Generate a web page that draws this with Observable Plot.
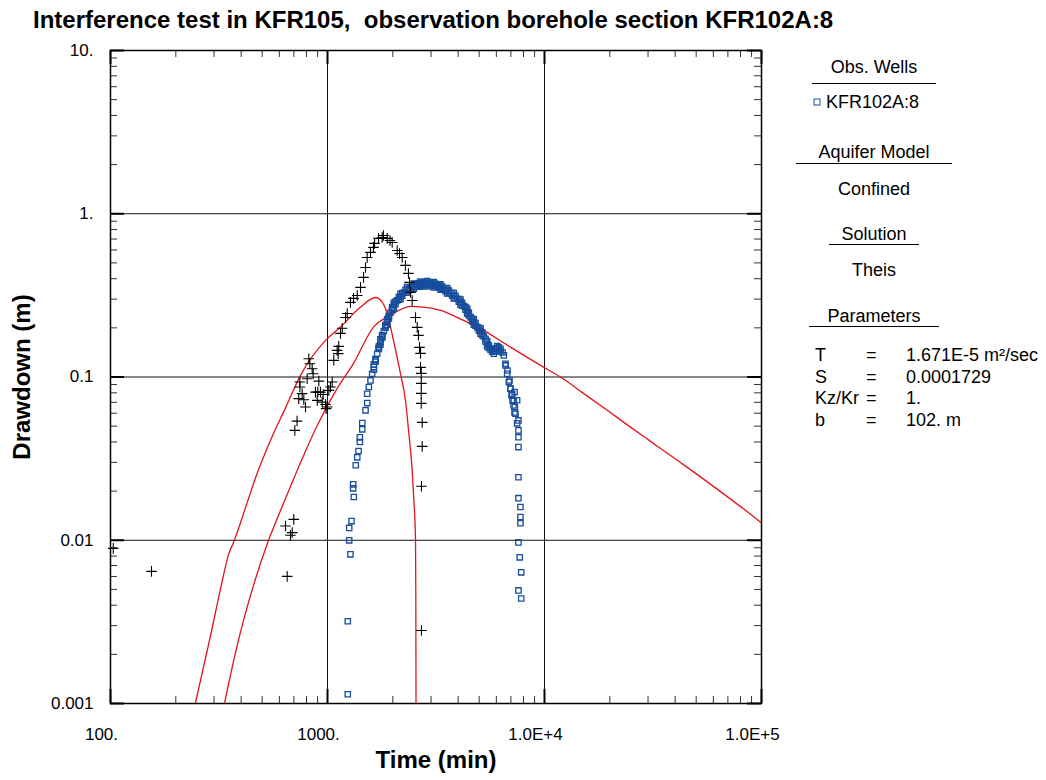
<!DOCTYPE html>
<html>
<head>
<meta charset="utf-8">
<script src="https://cdn.jsdelivr.net/npm/d3@7"></script>
<script src="https://cdn.jsdelivr.net/npm/@observablehq/plot@0.6"></script>
<style>
  body { margin: 0; background: #fff; font-family: "Liberation Sans", Arial, sans-serif; }
  #wrap { position: relative; width: 1046px; height: 780px; overflow: hidden; }
  #title { height: 40px; box-sizing: border-box; padding: 7px 0 0 33px; font-size: 24px; font-weight: bold; line-height: 26px; color: #000; white-space: pre; }
  .lg { position: absolute; font-size: 18px; line-height: 18px; color: #000; white-space: pre; transform: translateY(-50%); }
  .lgc { transform: translate(-50%, -50%); }
  .ul { position: absolute; height: 0; border-top: 1.5px solid #000; }
  .sq { position: absolute; width: 5px; height: 5px; border: 1.3px solid #1a4f9c; transform: translate(-50%, -50%); }
</style>
</head>
<body>
<div id="wrap">
  <div id="title"></div>
  <div id="chart"></div>
</div>
<script>
// ---------- text ----------
const titleText = "Interference test in KFR105,  observation borehole section KFR102A:8";
const xAxisTitle = "Time (min)";
const yAxisTitle = "Drawdown (m)";

// ---------- ticks ----------
const xTickValues = [100, 1000, 10000, 100000];
const xTickLabels = ["100.", "1000.", "1.0E+4", "1.0E+5"];
const yTickValues = [0.001, 0.01, 0.1, 1, 10];
const yTickLabels = ["0.001", "0.01", "0.1", "1.", "10."];

// ---------- data: crosses (black +) ----------
const crossTime = [103, 154.5, 652, 699, 640.5, 687.6, 675,
  1127, 1108, 1120, 1069, 820, 829, 850, 859, 806, 912, 746, 746, 764, 737, 778, 792,
  880, 902, 928, 955, 1051, 1032, 1014, 897, 945, 979, 997, 985, 724, 707,
  1148, 1169, 1211, 1233, 1276, 1318, 1371, 1420, 1466, 1497, 1524, 1578, 1629, 1647, 1718, 1786, 1811, 1884, 1941, 1987,
  2095, 2147, 2209, 2287, 2361, 2389, 2413, 2456, 2545, 2591, 2626, 2655, 2684, 2684, 2704, 2704, 2704, 2704,
  2732, 2732, 2710, 2710];
const crossDrawdown = [0.00892, 0.00645, 0.00601, 0.01343, 0.01222, 0.01113, 0.01072,
  0.154, 0.1455, 0.139, 0.1265, 0.1294, 0.1206, 0.1124, 0.1047, 0.0976, 0.0944, 0.0931, 0.0868, 0.0791, 0.0737, 0.0726, 0.0655,
  0.0808, 0.0808, 0.0808, 0.0782, 0.0931, 0.0868, 0.0828, 0.0719, 0.0702, 0.0679, 0.0655, 0.064, 0.0537, 0.0471,
  0.185, 0.1987, 0.2317, 0.245, 0.2864, 0.303, 0.316, 0.354, 0.4075, 0.469, 0.540, 0.580, 0.622, 0.658, 0.7065, 0.716, 0.736, 0.7065, 0.686, 0.667,
  0.596, 0.5714, 0.540, 0.4825, 0.431, 0.3796, 0.33, 0.2944, 0.2317, 0.2014, 0.180, 0.1518, 0.1395, 0.1146, 0.1052, 0.0914, 0.0794, 0.0689,
  0.0527, 0.0376, 0.0214, 0.0028];

// ---------- data: observation KFR102A:8 (blue squares) ----------
const obsEarlyTime = [1240, 1240, 1276, 1259, 1259, 1290, 1322, 1313, 1313, 1350, 1371, 1390, 1410, 1410, 1446, 1446, 1497, 1524];
const obsEarlyDrawdown = [0.00114, 0.00319, 0.0082, 0.00999, 0.0119, 0.0131, 0.0184, 0.0208, 0.022, 0.0288, 0.0322, 0.0352, 0.040, 0.0427, 0.0478, 0.0522, 0.0625, 0.0692];
const obsMidTime = [1524, 1551, 1578, 1606, 1635, 1664, 1694, 1724, 1754, 1786, 1818, 1850, 1883, 1917, 1951, 1986, 2021, 2094, 2169, 2247, 2328, 2413, 2499, 2590, 2683, 2780, 2880, 2983, 3090, 3202, 3317, 3436, 3560, 3688, 3821, 3958, 4101, 4249, 4402, 4560, 4724, 4894, 5070, 5253, 5442, 5638, 5841, 6051, 6269, 6495, 6611, 6729, 6849, 6969, 7096, 7223, 7299, 7350];
const obsMidDrawdown = [0.0790, 0.0868, 0.0953, 0.1047, 0.1150, 0.1264, 0.1388, 0.1511, 0.1636, 0.1772, 0.1911, 0.2041, 0.2170, 0.2328, 0.2474, 0.2618, 0.2745, 0.2945, 0.3115, 0.3281, 0.3423, 0.3520, 0.3604, 0.3673, 0.3707, 0.3725, 0.3725, 0.3707, 0.3673, 0.3621, 0.3553, 0.3470, 0.3374, 0.3266, 0.3145, 0.3015, 0.2876, 0.2719, 0.2533, 0.2328, 0.2170, 0.2022, 0.1911, 0.1772, 0.1599, 0.1469, 0.1441, 0.1489, 0.1489, 0.1356, 0.1206, 0.1047, 0.0931, 0.0847, 0.0790, 0.0719, 0.0655, 0.0596];
const obsUpperTime = [1635, 1754, 1883, 2021, 2169, 2328, 2499, 2683, 2880, 3090, 3317, 3560, 3821, 4101, 4402, 4724, 5070, 5442, 6051];
const obsUpperDrawdown = [0.1194, 0.1699, 0.2253, 0.2849, 0.3236, 0.3553, 0.3742, 0.3849, 0.3867, 0.3813, 0.3690, 0.3504, 0.3266, 0.2986, 0.2630, 0.2253, 0.1984, 0.1660, 0.1547];
const obsLowerTime = [1635, 1754, 1883, 2021, 2169, 2328, 2499, 2683, 2880, 3090, 3317, 3560, 3821, 4101, 4402, 4724, 5070, 5442, 5841, 6269];
const obsLowerDrawdown = [0.1108, 0.1576, 0.2089, 0.2642, 0.3000, 0.3296, 0.3470, 0.3570, 0.3587, 0.3537, 0.3423, 0.3250, 0.3029, 0.2769, 0.2440, 0.2089, 0.1840, 0.1540, 0.1388, 0.1434];
const obsBandTime = [1664, 1724, 1786, 1850, 1917, 1986, 2057, 2132, 2208, 2287, 2370, 2455, 2544, 2636, 2731, 2829, 2931, 3036, 3146, 3259, 3376, 3498, 3624, 3754, 3889, 4029, 4174, 4325, 4480, 4641, 4808, 4981, 5161, 5347, 5539, 5739, 5945, 6159];
const obsBandHigh = [0.1288, 0.1540, 0.1806, 0.2080, 0.2372, 0.2668, 0.2903, 0.3087, 0.3266, 0.3423, 0.3537, 0.3638, 0.3707, 0.3760, 0.3795, 0.3795, 0.3795, 0.3760, 0.3725, 0.3655, 0.3587, 0.3487, 0.3390, 0.3266, 0.3145, 0.3000, 0.2849, 0.2681, 0.2474, 0.2284, 0.2139, 0.2003, 0.1875, 0.1715, 0.1562, 0.1483, 0.1496, 0.1518];
const obsBandLow = [0.1241, 0.1483, 0.1739, 0.2003, 0.2284, 0.2570, 0.2797, 0.2972, 0.3145, 0.3296, 0.3407, 0.3504, 0.3570, 0.3621, 0.3655, 0.3655, 0.3655, 0.3621, 0.3587, 0.3520, 0.3455, 0.3358, 0.3266, 0.3145, 0.3029, 0.2890, 0.2745, 0.2582, 0.2383, 0.2201, 0.2060, 0.1929, 0.1806, 0.1652, 0.1504, 0.1428, 0.1441, 0.1462];
const obsDropTime = [6405, 6611, 6753, 6898, 6970, 7046, 7121, 7195, 7273];
const obsDropDrawdown = [0.1414, 0.1178, 0.1097, 0.0953, 0.0851, 0.0772, 0.0719, 0.0670, 0.0607];
const obsLateTime = [7280, 7480, 7480, 7585, 7585, 7585, 7585, 7585, 7585, 7745, 7745, 7745, 7585, 7690, 7810, 7585, 7810];
const obsLateDrawdown = [0.0808, 0.072, 0.052, 0.0542, 0.0471, 0.0428, 0.0372, 0.0243, 0.0181, 0.01597, 0.01387, 0.0127, 0.0097, 0.00786, 0.00636, 0.00493, 0.0044];

// ---------- data: Theis curves (red) ----------
const theisATime = [246, 289, 321, 351, 370, 427, 474, 546, 640.6, 751, 979, 1148, 1420, 1663, 1786, 1884, 2014, 2168, 2287, 2370, 2456, 2500, 2545, 2553, 2558];
const theisADrawdown = [0.001, 0.0026, 0.0050, 0.00828, 0.0098, 0.01706, 0.0257, 0.0409, 0.0647, 0.1023, 0.1675, 0.2022, 0.268, 0.307, 0.2877, 0.245, 0.1675, 0.1052, 0.072, 0.0452, 0.0268, 0.01755, 0.01, 0.0043, 0.001];
const theisBTime = [335, 383.6, 456, 535, 627, 712, 897, 1108, 1318, 1629, 1950, 2413, 2769, 3317, 4234, 5235, 6970, 9585, 11850, 15130, 19460, 24900, 31770, 40890, 52360, 66830, 82600, 100000];
const theisBDrawdown = [0.001, 0.00227, 0.00529, 0.00999, 0.01683, 0.02532, 0.0505, 0.0851, 0.1211, 0.2022, 0.2383, 0.2705, 0.268, 0.256, 0.222, 0.1929, 0.1524, 0.1178, 0.0999, 0.0794, 0.0625, 0.0493, 0.0392, 0.0309, 0.02444, 0.01924, 0.01557, 0.01274];

// ---------- legend text ----------
const legendHeadings = ["Obs. Wells", "Aquifer Model", "Solution", "Parameters"];
const legendWell = "KFR102A:8";
const modelName = "Confined";
const solutionName = "Theis";
const paramNames = ["T", "S", "Kz/Kr", "b"];
const paramValues = ["1.671E-5 m²/sec", "0.0001729", "1.", "102. m"];

// ---------- build tables ----------
const zip = (ts, ss) => ts.map((t, i) => ({t, s: ss[i]}));
const crosses = zip(crossTime, crossDrawdown);
const obs = [
  ...zip(obsEarlyTime, obsEarlyDrawdown),
  ...zip(obsUpperTime, obsUpperDrawdown),
  ...zip(obsLowerTime, obsLowerDrawdown),
  ...zip(obsBandTime, obsBandHigh),
  ...zip(obsBandTime, obsBandLow),
  ...zip(obsMidTime, obsMidDrawdown),
  ...zip(obsDropTime, obsDropDrawdown),
  ...zip(obsLateTime, obsLateDrawdown)
];
const theisA = zip(theisATime, theisADrawdown);
const theisB = zip(theisBTime, theisBDrawdown);

const xMinor = [], yMinor = [];
for (const d of [100, 1000, 10000]) for (let k = 2; k <= 9; k++) xMinor.push(k * d);
for (const d of [0.001, 0.01, 0.1, 1]) for (let k = 2; k <= 9; k++) yMinor.push(+(k * d).toPrecision(3));

const W = 1046, H = 740, mL = 110, mR = 285, mT = 10, mB = 77;
const iW = W - mL - mR, iH = H - mT - mB;
const font = "Liberation Sans, Arial, sans-serif";

document.getElementById("title").textContent = titleText;

const chart = Plot.plot({
  width: W, height: H,
  marginLeft: mL, marginRight: mR, marginTop: mT, marginBottom: mB,
  style: {fontFamily: font, fontSize: "17px", color: "#000", background: "#fff"},
  x: {type: "log", domain: [100, 100000]},
  y: {type: "log", domain: [0.001, 10]},
  marks: [
    Plot.ruleX([1000, 10000], {stroke: "#111", strokeWidth: 1}),
    Plot.ruleY([0.01, 0.1, 1], {stroke: "#111", strokeWidth: 1}),
    Plot.tickX(xMinor, {x: d => d, insetTop: iH - 7, stroke: "#333", strokeWidth: 1}),
    Plot.tickX(xMinor, {x: d => d, insetBottom: iH - 7, stroke: "#333", strokeWidth: 1}),
    Plot.tickY(yMinor, {y: d => d, insetRight: iW - 7, stroke: "#333", strokeWidth: 1}),
    Plot.tickY(yMinor, {y: d => d, insetLeft: iW - 7, stroke: "#333", strokeWidth: 1}),
    Plot.tickX(xTickValues, {x: d => d, insetTop: iH - 14, stroke: "#000", strokeWidth: 2}),
    Plot.tickX(xTickValues, {x: d => d, insetBottom: iH - 14, stroke: "#000", strokeWidth: 2}),
    Plot.tickY(yTickValues, {y: d => d, insetRight: iW - 14, stroke: "#000", strokeWidth: 2}),
    Plot.tickY(yTickValues, {y: d => d, insetLeft: iW - 14, stroke: "#000", strokeWidth: 2}),
    Plot.frame({stroke: "#000", strokeWidth: 1.5}),
    Plot.line(theisA, {x: "t", y: "s", stroke: "#e3141b", strokeWidth: 1.3, curve: "monotone-x", clip: true}),
    Plot.line(theisB, {x: "t", y: "s", stroke: "#e3141b", strokeWidth: 1.3, curve: "monotone-x", clip: true}),
    Plot.dot(obs, {x: "t", y: "s", symbol: "square", r: 3, stroke: "#174d9c", fill: "none", strokeWidth: 1.3}),
    Plot.dot(crosses, {x: "t", y: "s", symbol: "plus", r: 3.5, stroke: "#000", strokeWidth: 1.1}),
    Plot.axisX({ticks: xTickValues, tickSize: 0, tickPadding: 24, tickFormat: d => xTickLabels[xTickValues.indexOf(d)], fontSize: 17, dx: -9, label: null}),
    Plot.axisY({ticks: yTickValues, tickSize: 0, tickPadding: 17, tickFormat: d => yTickLabels[yTickValues.findIndex(v => Math.abs(v - d) / v < 1e-6)], fontSize: 17, label: null}),
    Plot.text([xAxisTitle], {frameAnchor: "bottom", dy: 64, fontSize: 24, fontWeight: "bold", fill: "#000", textAnchor: "middle"}),
    Plot.text([yAxisTitle], {frameAnchor: "left", dx: -88, rotate: -90, fontSize: 24, fontWeight: "bold", fill: "#000", textAnchor: "middle"})
  ]
});
document.getElementById("chart").appendChild(chart);

// ---------- legend panel ----------
const wrap = document.getElementById("wrap");
function addText(txt, x, y, centered) {
  const d = document.createElement("div");
  d.className = "lg" + (centered ? " lgc" : "");
  d.style.left = x + "px"; d.style.top = y + "px";
  d.textContent = txt;
  wrap.appendChild(d);
}
function addLine(x1, x2, y) {
  const d = document.createElement("div");
  d.className = "ul";
  d.style.left = x1 + "px"; d.style.top = y + "px"; d.style.width = (x2 - x1) + "px";
  wrap.appendChild(d);
}
const headY = [67, 152, 234, 316];
const lineSpans = [[812, 936, 83], [796, 952, 163], [829, 919, 244], [809, 939, 326]];
legendHeadings.forEach((h, i) => { addText(h, 874, headY[i], true); addLine(...lineSpans[i]); });
const sq = document.createElement("div"); sq.className = "sq"; sq.style.left = "817px"; sq.style.top = "102px"; wrap.appendChild(sq);
addText(legendWell, 826, 102, false);
addText(modelName, 874, 189, true);
addText(solutionName, 874, 270, true);
const rowY = [355, 377, 398, 420];
paramNames.forEach((n, i) => {
  addText(n, 815, rowY[i], false);
  addText("=", 866, rowY[i], false);
  addText(paramValues[i], 906, rowY[i], false);
});
</script>
</body>
</html>
